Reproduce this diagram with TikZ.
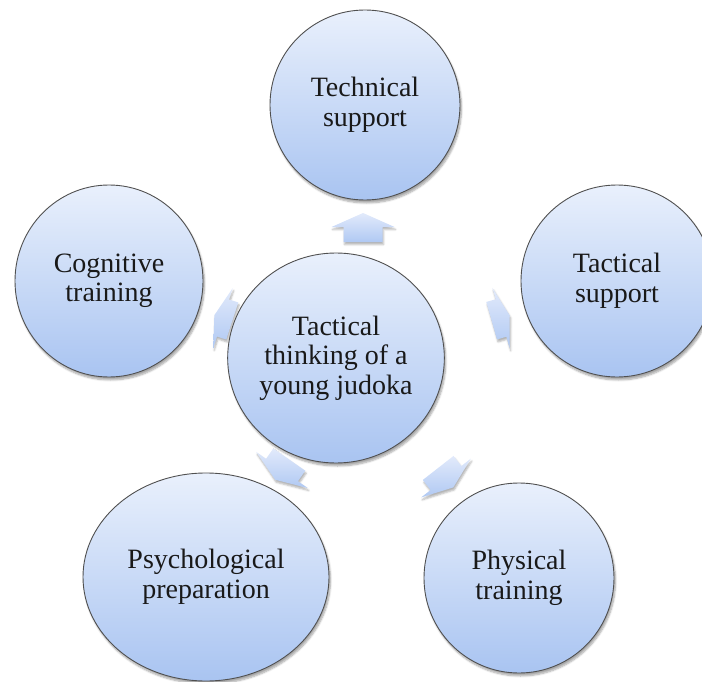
\documentclass[tikz,border=0pt]{standalone}
\usepackage{fontspec}
\setmainfont{Liberation Serif}
\usetikzlibrary{shapes.geometric,shadows.blur}
\definecolor{bubtop}{HTML}{E9F0FC}
\definecolor{bubbot}{HTML}{A9C4F1}
\definecolor{bubline}{HTML}{505050}
\definecolor{arrtop}{HTML}{E2EAFB}
\definecolor{arrbot}{HTML}{B0C9F3}
\tikzset{
  bubble/.style={ellipse, draw=bubline, line width=0.9pt, top color=bubtop, bottom color=bubbot,
    align=center, inner sep=0pt, text=black!90,
    font=\fontsize{28}{29.5}\selectfont,
    blur shadow={shadow xshift=1.5pt, shadow yshift=-3pt, shadow blur steps=6, shadow opacity=35}},
  arrowsty/.style={top color=arrtop, bottom color=arrbot,
    blur shadow={shadow xshift=1pt, shadow yshift=-2.5pt, shadow blur steps=4, shadow opacity=30}}
}
\newcommand{\myarrow}[4]{%
  \path[arrowsty, shift={(#1,#2)}, rotate=#3]
    ({-15*#4},-19.5) -- (0,-19.5) -- (0,-31.5) -- ({14*#4},0) -- (0,31.5) -- (0,19.5) -- ({-15*#4},19.5) -- cycle;}
\begin{document}
\begin{tikzpicture}[x=1pt,y=-1pt]
\useasboundingbox (0,0) rectangle (702,682);
% arrows
\myarrow{363}{227}{90}{1}
\myarrow{501}{318}{16}{0.65}
\myarrow{223}{318}{162}{0.65}
\myarrow{282}{470}{235}{0.85}
\myarrow{446}{478}{-52}{0.85}
% bubbles
\node[bubble, minimum width=202pt, minimum height=210pt] (c) at (336,358) {Tactical\\thinking of a\\young judoka};
\node[bubble, minimum width=190pt, minimum height=190pt] (tech) at (365,105) {Technical\\support};
\node[bubble, minimum width=192pt, minimum height=192pt] (tac) at (617,281) {Tactical\\support};
\node[bubble, minimum width=188pt, minimum height=192pt] (cog) at (109,281) {Cognitive\\training};
\node[bubble, minimum width=246pt, minimum height=208pt] (psy) at (206,577) {Psychological\\preparation};
\node[bubble, minimum width=190pt, minimum height=190pt] (phy) at (519,578) {Physical\\training};
\end{tikzpicture}
\end{document}
